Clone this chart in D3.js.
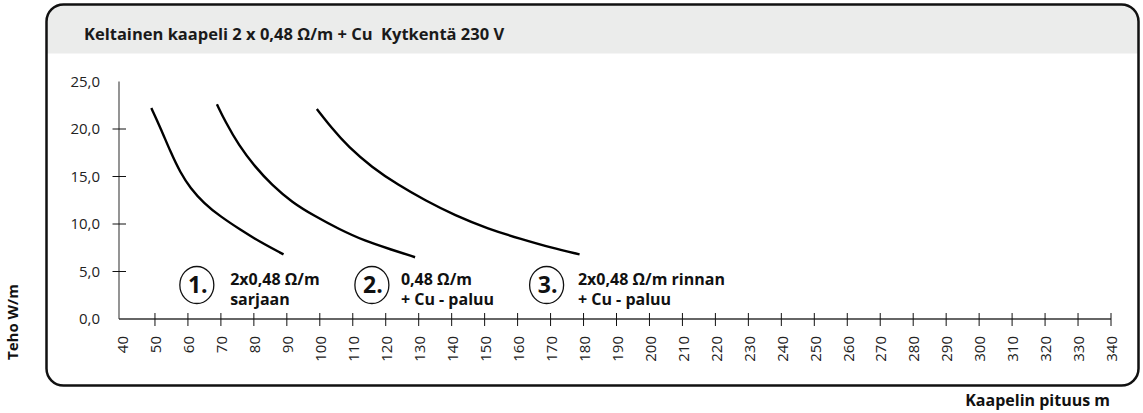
<!DOCTYPE html>
<html>
<head>
<meta charset="utf-8">
<script src="https://cdn.jsdelivr.net/npm/d3@7/dist/d3.min.js"></script>
<style>
  html, body { margin: 0; padding: 0; background: #fff; }
  svg { display: block; font-family: "Open Sans", "Noto Sans", sans-serif; }
</style>
</head>
<body>
<svg id="chart" width="1143" height="413"></svg>
<script>
// ---- data ----
const titleText = "Keltainen kaapeli 2 x 0,48 Ω/m + Cu\u00A0\u00A0Kytkentä 230 V";
const yLabel = "Teho W/m";
const xLabel = "Kaapelin pituus m";

const xTickValues = d3.range(40, 341, 10);
const yTickValues = [0, 5, 10, 15, 20, 25];

// 1. 2x0,48 Ω/m sarjaan
const series1X = [48.9, 51.7, 54.7, 57.7, 60.7, 64.8, 69.8, 75.9, 81.9, 89.0];
const series1Y = [22.2, 20.1, 17.6, 15.4, 13.8, 12.2, 10.8, 9.4, 8.1, 6.8];
// 2. 0,48 Ω/m + Cu - paluu
const series2X = [68.8, 71.3, 75.4, 80.4, 85.5, 91.5, 98.6, 105.6, 113.7, 121.8, 128.9];
const series2Y = [22.6, 20.8, 18.3, 16.0, 14.1, 12.3, 10.8, 9.5, 8.2, 7.3, 6.5];
// 3. 2x0,48 Ω/m rinnan + Cu - paluu
const series3X = [99.1, 103.6, 108.7, 115.7, 123.8, 131.9, 141.0, 151.0, 161.2, 170.2, 178.8];
const series3Y = [22.1, 20.1, 18.1, 16.0, 14.1, 12.5, 10.9, 9.5, 8.4, 7.5, 6.8];

const annotationNumbers = ["1.", "2.", "3."];
const annotationLine1 = ["2x0,48 Ω/m", "0,48 Ω/m", "2x0,48 Ω/m rinnan"];
const annotationLine2 = ["sarjaan", "+ Cu - paluu", "+ Cu - paluu"];

// ---- layout ----
const svg = d3.select("#chart");
const frame = { x: 46.5, y: 4.5, w: 1092, h: 381, r: 17 };
const headerH = 49;

const x = d3.scaleLinear().domain([40, 340]).range([122, 1111]);
const y = d3.scaleLinear().domain([0, 25]).range([319, 81.5]);
const fmt = v => d3.format(".1f")(v).replace(".", ",");

svg.append("clipPath").attr("id", "frameClip")
  .append("rect")
  .attr("x", frame.x).attr("y", frame.y).attr("width", frame.w).attr("height", frame.h)
  .attr("rx", frame.r).attr("ry", frame.r);

svg.append("rect")
  .attr("clip-path", "url(#frameClip)")
  .attr("x", frame.x).attr("y", frame.y)
  .attr("width", frame.w).attr("height", headerH)
  .attr("fill", "#ebeceb");

svg.append("rect")
  .attr("x", frame.x).attr("y", frame.y).attr("width", frame.w).attr("height", frame.h)
  .attr("rx", frame.r).attr("ry", frame.r)
  .attr("fill", "none").attr("stroke", "#111").attr("stroke-width", 2.5);

svg.append("text")
  .attr("x", 84).attr("y", 40)
  .attr("font-size", 16.5).attr("font-weight", 700).attr("fill", "#1a1a1a")
  .text(titleText);

// ---- y axis ----
const yAxisX = 119;
const yAxis = svg.append("g").attr("transform", `translate(${yAxisX},0)`);
yAxis.append("line")
  .attr("x1", 0).attr("x2", 0).attr("y1", y(0)).attr("y2", y(25))
  .attr("stroke", "#7a7a7a").attr("stroke-width", 1.6);
yAxis.selectAll("line.tick").data(yTickValues.filter(v => v > 0 && v < 25))
  .join("line").attr("class", "tick")
  .attr("x1", -6.5).attr("x2", 7).attr("y1", d => y(d)).attr("y2", d => y(d))
  .attr("stroke", "#111").attr("stroke-width", 1);
yAxis.selectAll("text").data(yTickValues).join("text")
  .attr("x", -19).attr("y", d => y(d)).attr("dy", "0.35em")
  .attr("text-anchor", "end").attr("font-size", 15).attr("fill", "#222")
  .text(fmt);

// ---- x axis ----
const xAxis = svg.append("g").attr("transform", `translate(0,${y(0)})`);
xAxis.append("line")
  .attr("x1", yAxisX).attr("x2", x(340)).attr("y1", 0).attr("y2", 0)
  .attr("stroke", "#333").attr("stroke-width", 1.3);
xAxis.selectAll("line.tick").data(xTickValues.filter(v => v > 40))
  .join("line").attr("class", "tick")
  .attr("x1", d => x(d)).attr("x2", d => x(d)).attr("y1", -6).attr("y2", 7)
  .attr("stroke", "#111").attr("stroke-width", 1);
xAxis.selectAll("text").data(xTickValues).join("text")
  .attr("transform", d => `translate(${x(d) + 1},17) rotate(-90)`)
  .attr("dy", "0.35em")
  .attr("text-anchor", "end").attr("font-size", 15).attr("fill", "#222")
  .text(d => d);

// ---- series ----
const line = d3.line().x(d => x(d[0])).y(d => y(d[1])).curve(d3.curveBasis);
[[series1X, series1Y], [series2X, series2Y], [series3X, series3Y]].forEach(([xs, ys]) => {
  svg.append("path")
    .datum(xs.map((v, i) => [v, ys[i]]))
    .attr("d", line)
    .attr("fill", "none").attr("stroke", "#000").attr("stroke-width", 2.4)
    .attr("stroke-linecap", "butt");
});

// ---- annotations ----
const annCircleX = [62.7, 115.8, 168.8];
const annTextX = [72.8, 124.6, 178.3];
annotationNumbers.forEach((num, i) => {
  const cx = x(annCircleX[i]), cy = 285;
  svg.append("ellipse").attr("cx", cx).attr("cy", cy).attr("rx", 17).attr("ry", 18.5)
    .attr("fill", "#fff").attr("stroke", "#111").attr("stroke-width", 1.3);
  svg.append("text").attr("x", cx + 1).attr("y", cy).attr("dy", "0.36em")
    .attr("text-anchor", "middle").attr("font-size", 23).attr("font-weight", 700)
    .attr("fill", "#111").text(num);
  svg.append("text").attr("x", x(annTextX[i])).attr("y", 284.5)
    .attr("font-size", 16).attr("font-weight", 700).attr("fill", "#111")
    .text(annotationLine1[i]);
  svg.append("text").attr("x", x(annTextX[i])).attr("y", 304.5)
    .attr("font-size", 16).attr("font-weight", 700).attr("fill", "#111")
    .text(annotationLine2[i]);
});

// ---- axis titles ----
svg.append("text")
  .attr("transform", "translate(18,322) rotate(-90)")
  .attr("text-anchor", "middle").attr("font-size", 15).attr("font-weight", 700).attr("fill", "#111")
  .text(yLabel);
svg.append("text")
  .attr("x", 1110).attr("y", 406)
  .attr("text-anchor", "end").attr("font-size", 16).attr("font-weight", 700).attr("fill", "#111")
  .text(xLabel);
</script>
</body>
</html>
